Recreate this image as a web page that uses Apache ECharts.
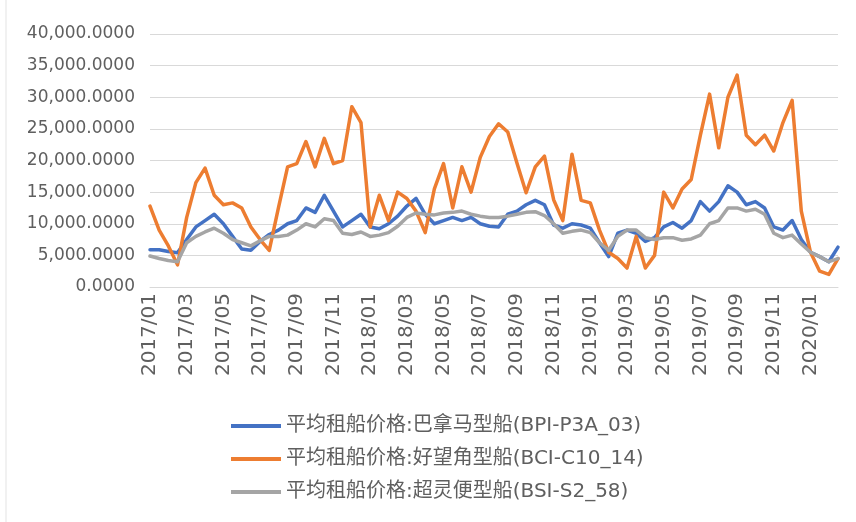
<!DOCTYPE html>
<html>
<head>
<meta charset="utf-8">
<script src="https://cdn.jsdelivr.net/npm/echarts@6/dist/echarts.min.js"></script>
<style>
  html, body { margin: 0; padding: 0; background: #fff; }
  #main { width: 856px; height: 522px; }
</style>
</head>
<body>
<div id="main"></div>
<script>
const chart = echarts.init(document.getElementById("main"));

// ********
// * Data *
// ********

// Half-month sample dates, 2017/01 to 2020/02
const dates = [
  "2017/01/01", "2017/01/15", "2017/02/01", "2017/02/15", "2017/03/01", "2017/03/15",
  "2017/04/01", "2017/04/15", "2017/05/01", "2017/05/15", "2017/06/01", "2017/06/15",
  "2017/07/01", "2017/07/15", "2017/08/01", "2017/08/15", "2017/09/01", "2017/09/15",
  "2017/10/01", "2017/10/15", "2017/11/01", "2017/11/15", "2017/12/01", "2017/12/15",
  "2018/01/01", "2018/01/15", "2018/02/01", "2018/02/15", "2018/03/01", "2018/03/15",
  "2018/04/01", "2018/04/15", "2018/05/01", "2018/05/15", "2018/06/01", "2018/06/15",
  "2018/07/01", "2018/07/15", "2018/08/01", "2018/08/15", "2018/09/01", "2018/09/15",
  "2018/10/01", "2018/10/15", "2018/11/01", "2018/11/15", "2018/12/01", "2018/12/15",
  "2019/01/01", "2019/01/15", "2019/02/01", "2019/02/15", "2019/03/01", "2019/03/15",
  "2019/04/01", "2019/04/15", "2019/05/01", "2019/05/15", "2019/06/01", "2019/06/15",
  "2019/07/01", "2019/07/15", "2019/08/01", "2019/08/15", "2019/09/01", "2019/09/15",
  "2019/10/01", "2019/10/15", "2019/11/01", "2019/11/15", "2019/12/01", "2019/12/15",
  "2020/01/01", "2020/01/15", "2020/02/01", "2020/02/15",
];

// Panamax (BPI-P3A_03)
const panamax = [
  5900, 5900, 5600, 5400, 7500, 9500, 10500, 11500, 10000, 8000, 6000, 5800,
  7200, 8300, 9000, 10000, 10500, 12500, 11800, 14500, 12000, 9500, 10500, 11500,
  9500, 9200, 10000, 11200, 12800, 14000, 11500, 10000, 10500, 11000, 10500, 11000,
  10000, 9600, 9500, 11500, 12000, 13000, 13700, 13000, 9800, 9300, 10000, 9800,
  9300, 7000, 4800, 8500, 9000, 8500, 7200, 7800, 9500, 10200, 9300, 10500,
  13500, 12000, 13500, 16000, 15000, 13000, 13500, 12500, 9500, 9000, 10500, 7500,
  5500, 4800, 4000, 6300,
];

// Capesize (BCI-C10_14)
const capesize = [
  12800, 9000, 6500, 3500, 11000, 16500, 18800, 14500, 13000, 13300, 12500, 9500,
  7500, 5800, 12500, 19000, 19500, 23000, 19000, 23500, 19500, 20000, 28500, 26000,
  9500, 14500, 10500, 15000, 14000, 12000, 8600, 15500, 19500, 12500, 19000, 15000,
  20500, 23800, 25800, 24500, 19600, 14900, 19000, 20700, 13800, 10500, 21000, 13700,
  13300, 9000, 5500, 4500, 3000, 8000, 3000, 5000, 15000, 12500, 15500, 17000,
  24000, 30500, 22000, 30000, 33500, 24000, 22500, 24000, 21500, 26000, 29500, 12000,
  5500, 2500, 2000, 4500,
];

// Supramax (BSI-S2_58)
const supramax = [
  4900, 4500, 4200, 4000, 7000, 8000, 8700, 9300, 8500, 7500, 7000, 6500,
  7300, 8000, 8000, 8200, 9000, 10000, 9500, 10800, 10500, 8500, 8300, 8700,
  8000, 8200, 8600, 9600, 11000, 11700, 11500, 11400, 11700, 11800, 12000, 11500,
  11200, 11000, 11000, 11200, 11500, 11800, 11900, 11300, 10000, 8500, 8800, 9000,
  8600, 7000, 5800, 8000, 9000, 9000, 7800, 7500, 7800, 7800, 7400, 7600,
  8200, 10000, 10500, 12500, 12500, 12000, 12300, 11500, 8500, 7800, 8200, 6800,
  5500, 4800, 4000, 4500,
];

const seriesNames = [
  "平均租船价格:巴拿马型船(BPI-P3A_03)",
  "平均租船价格:好望角型船(BCI-C10_14)",
  "平均租船价格:超灵便型船(BSI-S2_58)",
];
const seriesColors = ["#4472C4", "#ED7D31", "#A5A5A5"];

// *************
// * Functions *
// *************

function formatValue(v) {
  return Number(v).toLocaleString("en-US", { minimumFractionDigits: 4, maximumFractionDigits: 4 });
}

// Show a tick label on the first sample of every odd month
function isLabelDate(index, value) {
  const parts = value.split("/");
  return parts[2] === "01" && parseInt(parts[1], 10) % 2 === 1;
}

function buildSeries(name, data, color) {
  return {
    name: name,
    type: "line",
    data: data,
    showSymbol: false,
    symbol: "none",
    lineStyle: { color: color, width: 3.5, join: "round", cap: "round" },
    itemStyle: { color: color },
  };
}

const textColor = "#5f5f5f";
const gridColor = "#d9d9d9";

const option = {
  animation: false,
  backgroundColor: "#fff",
  textStyle: { fontFamily: "DejaVu Sans, Noto Sans CJK SC" },
  grid: { left: 150, right: 18, top: 34, bottom: 235, containLabel: false },
  legend: {
    orient: "vertical",
    left: 226,
    top: 410,
    icon: "rect",
    itemWidth: 50,
    itemHeight: 4,
    itemGap: 11,
    textStyle: {
      color: textColor,
      fontSize: 20,
      lineHeight: 22,
      fontFamily: "DejaVu Sans, Noto Sans CJK SC",
    },
    data: seriesNames,
  },
  xAxis: {
    type: "category",
    data: dates,
    boundaryGap: false,
    axisLine: { show: true, lineStyle: { color: gridColor, width: 1 } },
    axisTick: { show: false },
    axisLabel: {
      rotate: 90,
      interval: isLabelDate,
      formatter: (value) => value.slice(0, 7),
      color: textColor,
      fontSize: 20,
      margin: 6,
    },
    splitLine: { show: false },
  },
  yAxis: {
    type: "value",
    min: 0,
    max: 40000,
    interval: 5000,
    axisLine: { show: false },
    axisTick: { show: false },
    axisLabel: {
      formatter: formatValue,
      color: textColor,
      fontSize: 17,
      margin: 15,
    },
    splitLine: { lineStyle: { color: gridColor, width: 1 } },
  },
  graphic: [
    {
      type: "line",
      shape: { x1: 6, y1: 0, x2: 6, y2: 522 },
      style: { stroke: "#e3e3e3", lineWidth: 1 },
    },
  ],
  series: [
    buildSeries(seriesNames[0], panamax, seriesColors[0]),
    buildSeries(seriesNames[1], capesize, seriesColors[1]),
    buildSeries(seriesNames[2], supramax, seriesColors[2]),
  ],
};

chart.setOption(option);
</script>
</body>
</html>
